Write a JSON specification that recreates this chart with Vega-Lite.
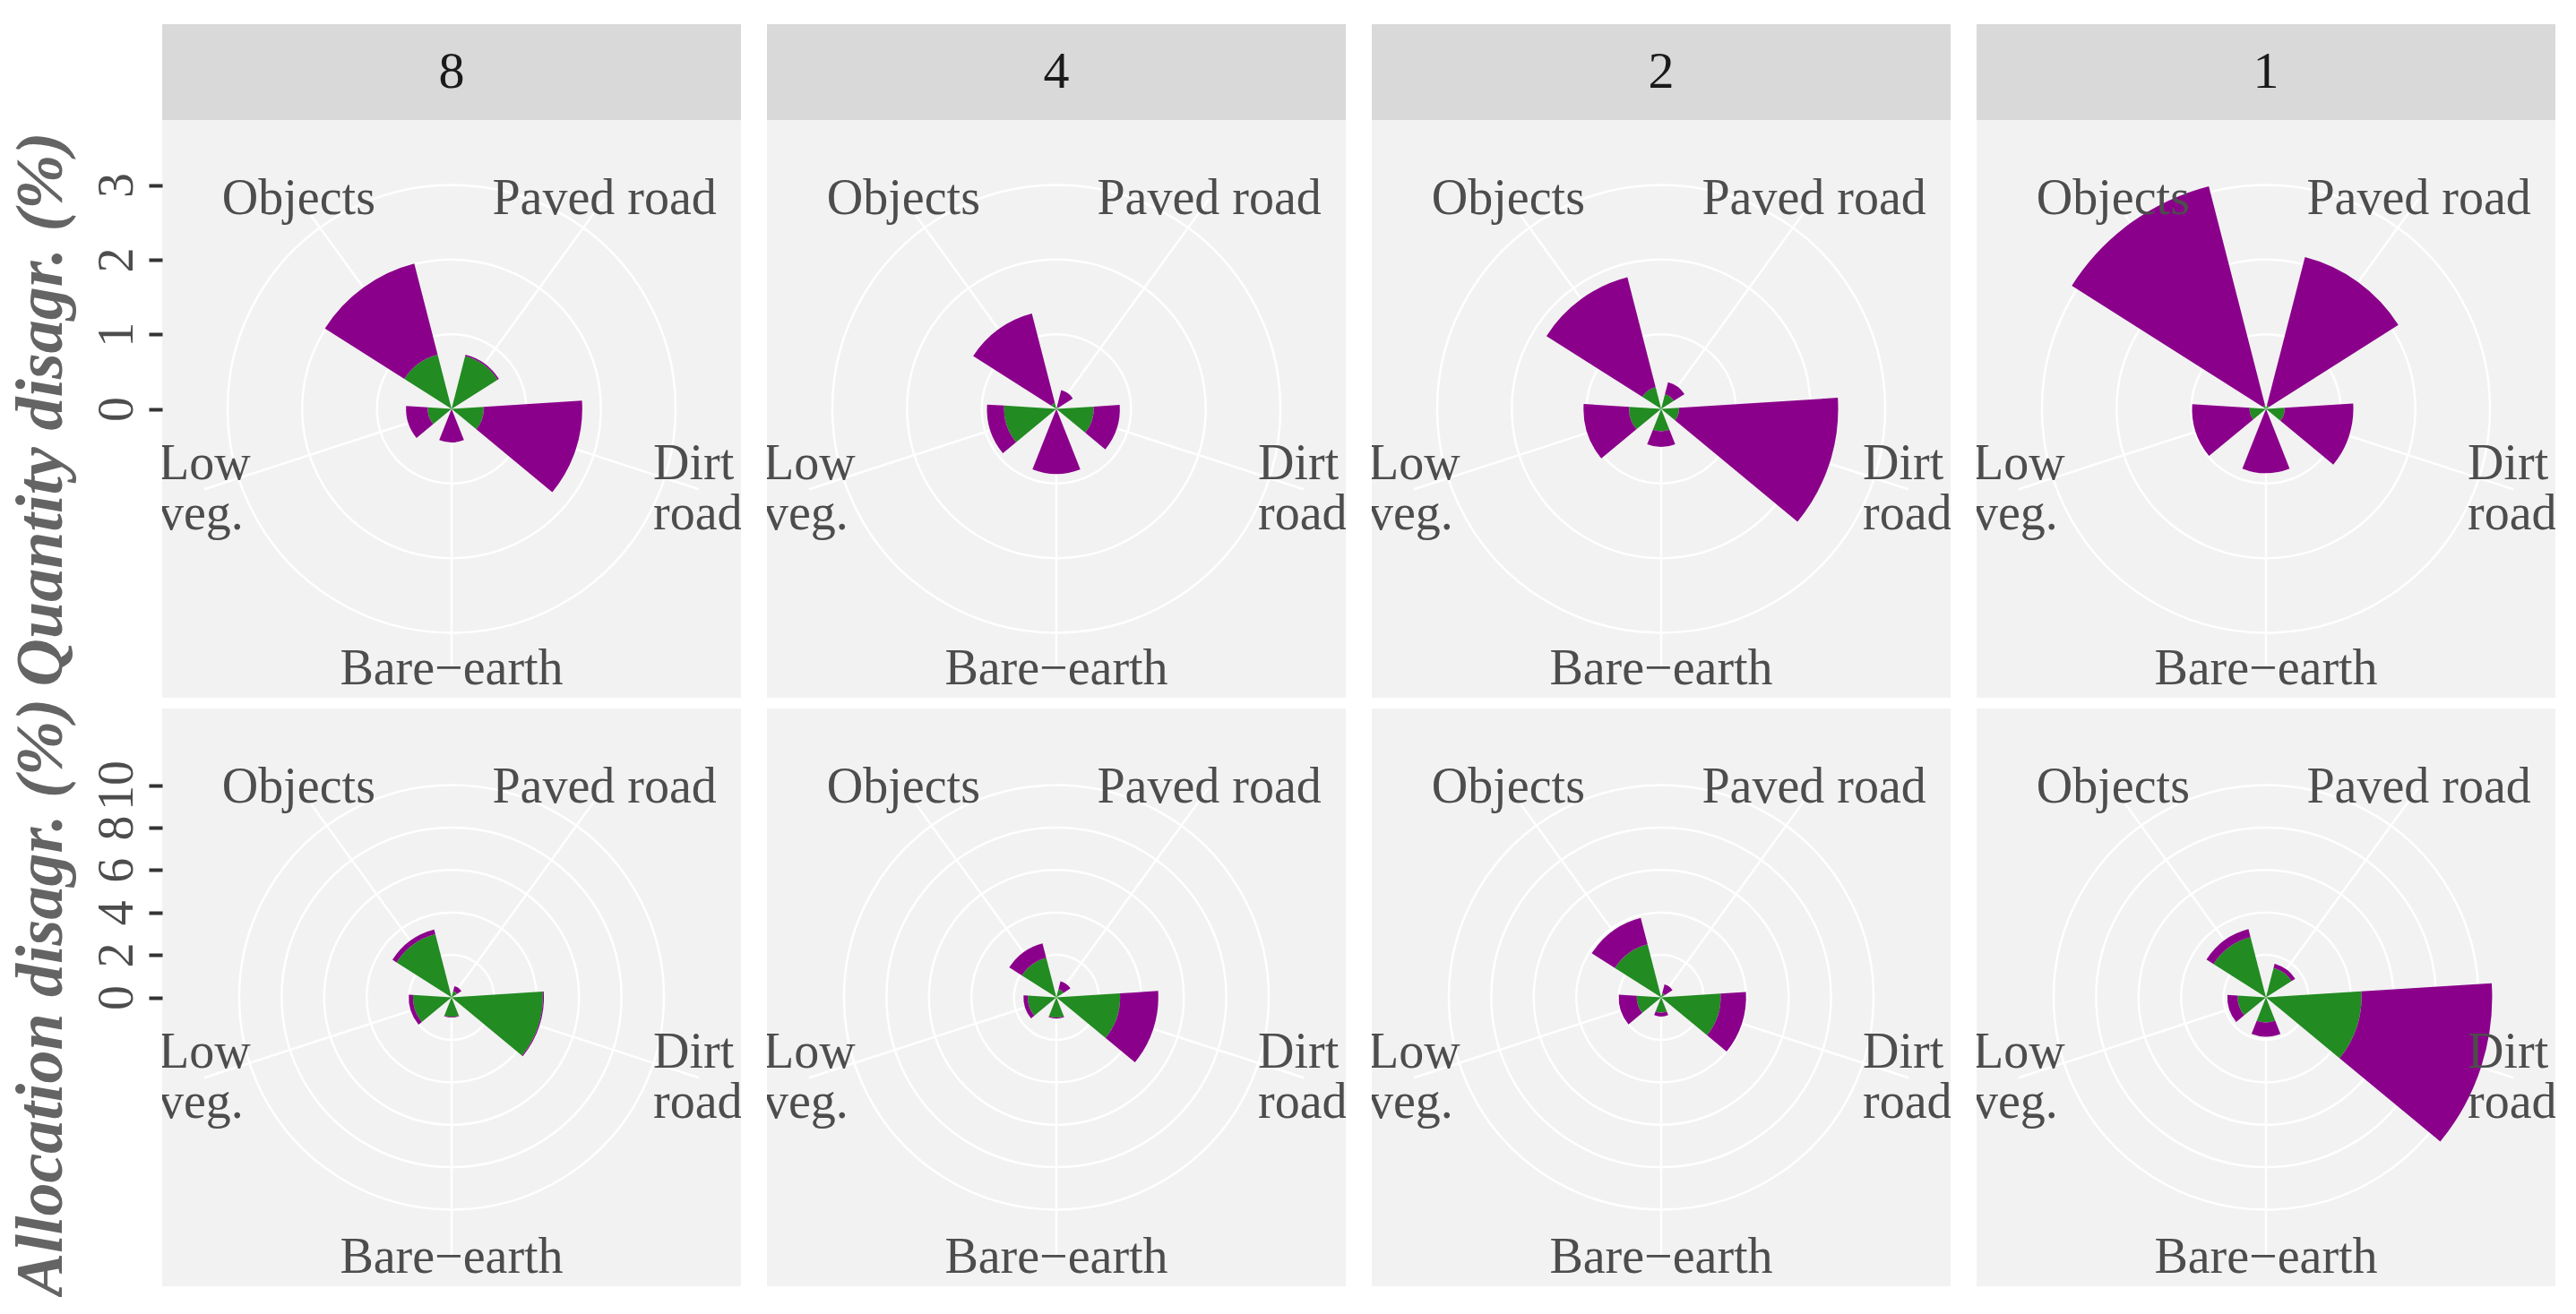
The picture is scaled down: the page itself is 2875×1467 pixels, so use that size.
{
  "$schema": "https://vega.github.io/schema/vega-lite/v6.json",
  "background": "#FFFFFF",
  "padding": {"left": 8, "top": 27, "right": 0, "bottom": 0},
  "config": {"view": {"stroke": null}, "font": "Liberation Serif"},
  "datasets": {
    "bars": [
      {"measure": "Quantity", "res": "8", "cls": "Objects", "part": "Component 1", "value": 0.75},
      {"measure": "Quantity", "res": "8", "cls": "Objects", "part": "Component 2", "value": 1.26},
      {"measure": "Quantity", "res": "8", "cls": "Paved road", "part": "Component 1", "value": 0.73},
      {"measure": "Quantity", "res": "8", "cls": "Paved road", "part": "Component 2", "value": 0.02},
      {"measure": "Quantity", "res": "8", "cls": "Dirt road", "part": "Component 1", "value": 0.43},
      {"measure": "Quantity", "res": "8", "cls": "Dirt road", "part": "Component 2", "value": 1.32},
      {"measure": "Quantity", "res": "8", "cls": "Bare-earth", "part": "Component 1", "value": 0.0},
      {"measure": "Quantity", "res": "8", "cls": "Bare-earth", "part": "Component 2", "value": 0.45},
      {"measure": "Quantity", "res": "8", "cls": "Low veg.", "part": "Component 1", "value": 0.32},
      {"measure": "Quantity", "res": "8", "cls": "Low veg.", "part": "Component 2", "value": 0.29},
      {"measure": "Quantity", "res": "4", "cls": "Objects", "part": "Component 1", "value": 0.08},
      {"measure": "Quantity", "res": "4", "cls": "Objects", "part": "Component 2", "value": 1.24},
      {"measure": "Quantity", "res": "4", "cls": "Paved road", "part": "Component 1", "value": 0.03},
      {"measure": "Quantity", "res": "4", "cls": "Paved road", "part": "Component 2", "value": 0.23},
      {"measure": "Quantity", "res": "4", "cls": "Dirt road", "part": "Component 1", "value": 0.5},
      {"measure": "Quantity", "res": "4", "cls": "Dirt road", "part": "Component 2", "value": 0.35},
      {"measure": "Quantity", "res": "4", "cls": "Bare-earth", "part": "Component 1", "value": 0.0},
      {"measure": "Quantity", "res": "4", "cls": "Bare-earth", "part": "Component 2", "value": 0.87},
      {"measure": "Quantity", "res": "4", "cls": "Low veg.", "part": "Component 1", "value": 0.7},
      {"measure": "Quantity", "res": "4", "cls": "Low veg.", "part": "Component 2", "value": 0.23},
      {"measure": "Quantity", "res": "2", "cls": "Objects", "part": "Component 1", "value": 0.3},
      {"measure": "Quantity", "res": "2", "cls": "Objects", "part": "Component 2", "value": 1.52},
      {"measure": "Quantity", "res": "2", "cls": "Paved road", "part": "Component 1", "value": 0.2},
      {"measure": "Quantity", "res": "2", "cls": "Paved road", "part": "Component 2", "value": 0.17},
      {"measure": "Quantity", "res": "2", "cls": "Dirt road", "part": "Component 1", "value": 0.24},
      {"measure": "Quantity", "res": "2", "cls": "Dirt road", "part": "Component 2", "value": 2.13},
      {"measure": "Quantity", "res": "2", "cls": "Bare-earth", "part": "Component 1", "value": 0.3},
      {"measure": "Quantity", "res": "2", "cls": "Bare-earth", "part": "Component 2", "value": 0.21},
      {"measure": "Quantity", "res": "2", "cls": "Low veg.", "part": "Component 1", "value": 0.43},
      {"measure": "Quantity", "res": "2", "cls": "Low veg.", "part": "Component 2", "value": 0.61},
      {"measure": "Quantity", "res": "1", "cls": "Objects", "part": "Component 1", "value": 0.05},
      {"measure": "Quantity", "res": "1", "cls": "Objects", "part": "Component 2", "value": 3.03},
      {"measure": "Quantity", "res": "1", "cls": "Paved road", "part": "Component 1", "value": 0.05},
      {"measure": "Quantity", "res": "1", "cls": "Paved road", "part": "Component 2", "value": 2.05},
      {"measure": "Quantity", "res": "1", "cls": "Dirt road", "part": "Component 1", "value": 0.25},
      {"measure": "Quantity", "res": "1", "cls": "Dirt road", "part": "Component 2", "value": 0.92},
      {"measure": "Quantity", "res": "1", "cls": "Bare-earth", "part": "Component 1", "value": 0.0},
      {"measure": "Quantity", "res": "1", "cls": "Bare-earth", "part": "Component 2", "value": 0.86},
      {"measure": "Quantity", "res": "1", "cls": "Low veg.", "part": "Component 1", "value": 0.22},
      {"measure": "Quantity", "res": "1", "cls": "Low veg.", "part": "Component 2", "value": 0.77},
      {"measure": "Allocation", "res": "8", "cls": "Objects", "part": "Component 1", "value": 3.07},
      {"measure": "Allocation", "res": "8", "cls": "Objects", "part": "Component 2", "value": 0.23},
      {"measure": "Allocation", "res": "8", "cls": "Paved road", "part": "Component 1", "value": 0.3},
      {"measure": "Allocation", "res": "8", "cls": "Paved road", "part": "Component 2", "value": 0.25},
      {"measure": "Allocation", "res": "8", "cls": "Dirt road", "part": "Component 1", "value": 4.3},
      {"measure": "Allocation", "res": "8", "cls": "Dirt road", "part": "Component 2", "value": 0.05},
      {"measure": "Allocation", "res": "8", "cls": "Bare-earth", "part": "Component 1", "value": 0.92},
      {"measure": "Allocation", "res": "8", "cls": "Bare-earth", "part": "Component 2", "value": 0.03},
      {"measure": "Allocation", "res": "8", "cls": "Low veg.", "part": "Component 1", "value": 1.82},
      {"measure": "Allocation", "res": "8", "cls": "Low veg.", "part": "Component 2", "value": 0.2},
      {"measure": "Allocation", "res": "4", "cls": "Objects", "part": "Component 1", "value": 1.93},
      {"measure": "Allocation", "res": "4", "cls": "Objects", "part": "Component 2", "value": 0.7},
      {"measure": "Allocation", "res": "4", "cls": "Paved road", "part": "Component 1", "value": 0.4},
      {"measure": "Allocation", "res": "4", "cls": "Paved road", "part": "Component 2", "value": 0.38},
      {"measure": "Allocation", "res": "4", "cls": "Dirt road", "part": "Component 1", "value": 3.0},
      {"measure": "Allocation", "res": "4", "cls": "Dirt road", "part": "Component 2", "value": 1.8},
      {"measure": "Allocation", "res": "4", "cls": "Bare-earth", "part": "Component 1", "value": 0.95},
      {"measure": "Allocation", "res": "4", "cls": "Bare-earth", "part": "Component 2", "value": 0.05},
      {"measure": "Allocation", "res": "4", "cls": "Low veg.", "part": "Component 1", "value": 1.35},
      {"measure": "Allocation", "res": "4", "cls": "Low veg.", "part": "Component 2", "value": 0.2},
      {"measure": "Allocation", "res": "2", "cls": "Objects", "part": "Component 1", "value": 2.58},
      {"measure": "Allocation", "res": "2", "cls": "Objects", "part": "Component 2", "value": 1.29},
      {"measure": "Allocation", "res": "2", "cls": "Paved road", "part": "Component 1", "value": 0.2},
      {"measure": "Allocation", "res": "2", "cls": "Paved road", "part": "Component 2", "value": 0.43},
      {"measure": "Allocation", "res": "2", "cls": "Dirt road", "part": "Component 1", "value": 2.8},
      {"measure": "Allocation", "res": "2", "cls": "Dirt road", "part": "Component 2", "value": 1.2},
      {"measure": "Allocation", "res": "2", "cls": "Bare-earth", "part": "Component 1", "value": 0.72},
      {"measure": "Allocation", "res": "2", "cls": "Bare-earth", "part": "Component 2", "value": 0.18},
      {"measure": "Allocation", "res": "2", "cls": "Low veg.", "part": "Component 1", "value": 1.15},
      {"measure": "Allocation", "res": "2", "cls": "Low veg.", "part": "Component 2", "value": 0.85},
      {"measure": "Allocation", "res": "1", "cls": "Objects", "part": "Component 1", "value": 2.93},
      {"measure": "Allocation", "res": "1", "cls": "Objects", "part": "Component 2", "value": 0.39},
      {"measure": "Allocation", "res": "1", "cls": "Paved road", "part": "Component 1", "value": 1.43},
      {"measure": "Allocation", "res": "1", "cls": "Paved road", "part": "Component 2", "value": 0.2},
      {"measure": "Allocation", "res": "1", "cls": "Dirt road", "part": "Component 1", "value": 4.5},
      {"measure": "Allocation", "res": "1", "cls": "Dirt road", "part": "Component 2", "value": 6.15},
      {"measure": "Allocation", "res": "1", "cls": "Bare-earth", "part": "Component 1", "value": 1.18},
      {"measure": "Allocation", "res": "1", "cls": "Bare-earth", "part": "Component 2", "value": 0.67},
      {"measure": "Allocation", "res": "1", "cls": "Low veg.", "part": "Component 1", "value": 1.33},
      {"measure": "Allocation", "res": "1", "cls": "Low veg.", "part": "Component 2", "value": 0.49}
    ],
    "cats": [
      {"cls": "Paved road", "label": "Paved road"},
      {"cls": "Dirt road", "label": "Dirt\nroad"},
      {"cls": "Bare-earth", "label": "Bare−earth"},
      {"cls": "Low veg.", "label": "Low\nveg."},
      {"cls": "Objects", "label": "Objects"}
    ],
    "qgrid": [{"r": 1}, {"r": 2}, {"r": 3}],
    "agrid": [{"r": 2}, {"r": 4}, {"r": 6}, {"r": 8}, {"r": 10}]
  },
  "columns": 4,
  "spacing": {"row": 0, "column": 29},
  "resolve": {"scale": {"theta": "independent", "radius": "independent", "color": "independent"}},
  "concat": [
    {
      "spacing": 0,
      "resolve": {"scale": {"theta": "independent", "radius": "independent", "color": "independent"}},
      "vconcat": [
        {"width": 646, "height": 107, "view": {"fill": "#D9D9D9", "stroke": null}, "data": {"values": [{"res": "8"}]},
         "mark": {"type": "text", "fontSize": 58, "color": "#1A1A1A", "baseline": "middle", "align": "center"},
         "encoding": {"text": {"field": "res"}}},
        {"width": 646, "height": 645, "view": {"fill": "#F2F2F2", "stroke": null},
         "resolve": {"scale": {"theta": "independent"}},
         "layer": [
          {"data": {"name": "qgrid"}, "mark": {"type": "arc", "fill": "transparent", "stroke": "#FFFFFF", "strokeWidth": 2.5},
           "encoding": {"theta": {"datum": 0, "type": "quantitative", "scale": {"domain": [0, 6.283185307179586], "range": [0, 6.283185307179586], "zero": false, "nice": false}},
                        "theta2": {"datum": 6.2831},
                        "radius": {"field": "r", "type": "quantitative", "scale": {"domain": [0, 3], "range": [0, 250], "nice": false, "zero": true}},
                        "radius2": {"field": "r"}}},
          {"data": {"name": "cats"}, "mark": {"type": "arc", "fill": "transparent", "stroke": "#FFFFFF", "strokeWidth": 2.5},
           "encoding": {"theta": {"field": "cls", "type": "nominal", "scale": {"type": "band", "domain": ["Paved road", "Dirt road", "Bare-earth", "Low veg.", "Objects"], "range": [0, 6.283185307179586], "paddingInner": 1, "paddingOuter": 0.5}},
                        "radius": {"datum": 3.483}}},
          {"data": {"name": "bars"}, "transform": [{"filter": "datum.measure === 'Quantity' && datum.res === '8'"}],
           "mark": {"type": "arc"},
           "encoding": {"theta": {"field": "cls", "type": "nominal", "scale": {"type": "band", "domain": ["Paved road", "Dirt road", "Bare-earth", "Low veg.", "Objects"], "range": [0, 6.283185307179586], "paddingInner": 0.4, "paddingOuter": 0.2}},
                        "radius": {"field": "value", "type": "quantitative", "stack": "zero"},
                        "color": {"field": "part", "type": "nominal", "scale": {"domain": ["Component 1", "Component 2"], "range": ["#228B22", "#8B008B"]}, "legend": null}}},
          {"data": {"name": "cats"}, "transform": [{"filter": "datum.cls !== 'Dirt road' && datum.cls !== 'Low veg.'"}],
           "mark": {"type": "text", "fontSize": 56, "color": "#4D4D4D", "align": "center", "baseline": "middle", "clip": true},
           "encoding": {"theta": {"field": "cls", "type": "nominal", "scale": {"type": "band", "domain": ["Paved road", "Dirt road", "Bare-earth", "Low veg.", "Objects"], "range": [0, 6.283185307179586], "paddingInner": 1, "paddingOuter": 0.5}},
                        "radius": {"datum": 3.483}, "text": {"field": "label"}}},
          {"data": {"name": "cats"}, "transform": [{"filter": "datum.cls === 'Dirt road' || datum.cls === 'Low veg.'"}],
           "mark": {"type": "text", "fontSize": 56, "color": "#4D4D4D", "lineBreak": "\n", "lineHeight": 56, "align": "left", "dx": -51, "dy": -28, "baseline": "middle", "clip": true},
           "encoding": {"theta": {"field": "cls", "type": "nominal", "scale": {"type": "band", "domain": ["Paved road", "Dirt road", "Bare-earth", "Low veg.", "Objects"], "range": [0, 6.283185307179586], "paddingInner": 1, "paddingOuter": 0.5}},
                        "radius": {"datum": 3.483}, "text": {"field": "label"}}},
          {"data": {"name": "qgrid"}, "mark": {"type": "point", "opacity": 0},
           "encoding": {"y": {"field": "r", "type": "quantitative", "scale": {"domain": [-3.8715, 3.8715], "nice": false, "zero": false},
             "axis": {"values": [0, 1, 2, 3], "title": "Quantity disagr. (%)", "grid": false, "domain": false, "tickColor": "#333333", "tickSize": 15, "tickWidth": 4,
                      "labelAngle": -90, "labelAlign": "center", "labelBaseline": "alphabetic", "labelPadding": 19, "labelFontSize": 56, "labelColor": "#4D4D4D", "labelOverlap": false, "labelFlush": false,
                      "titleFontSize": 74, "titleFontWeight": "bold", "titleFontStyle": "italic", "titleColor": "#646464", "titlePadding": 18}}}}
         ]}
      ]
    },
    {
      "spacing": 0,
      "resolve": {"scale": {"theta": "independent", "radius": "independent", "color": "independent"}},
      "vconcat": [
        {"width": 646, "height": 107, "view": {"fill": "#D9D9D9", "stroke": null}, "data": {"values": [{"res": "4"}]},
         "mark": {"type": "text", "fontSize": 58, "color": "#1A1A1A", "baseline": "middle", "align": "center"},
         "encoding": {"text": {"field": "res"}}},
        {"width": 646, "height": 645, "view": {"fill": "#F2F2F2", "stroke": null},
         "resolve": {"scale": {"theta": "independent"}},
         "layer": [
          {"data": {"name": "qgrid"}, "mark": {"type": "arc", "fill": "transparent", "stroke": "#FFFFFF", "strokeWidth": 2.5},
           "encoding": {"theta": {"datum": 0, "type": "quantitative", "scale": {"domain": [0, 6.283185307179586], "range": [0, 6.283185307179586], "zero": false, "nice": false}},
                        "theta2": {"datum": 6.2831},
                        "radius": {"field": "r", "type": "quantitative", "scale": {"domain": [0, 3], "range": [0, 250], "nice": false, "zero": true}},
                        "radius2": {"field": "r"}}},
          {"data": {"name": "cats"}, "mark": {"type": "arc", "fill": "transparent", "stroke": "#FFFFFF", "strokeWidth": 2.5},
           "encoding": {"theta": {"field": "cls", "type": "nominal", "scale": {"type": "band", "domain": ["Paved road", "Dirt road", "Bare-earth", "Low veg.", "Objects"], "range": [0, 6.283185307179586], "paddingInner": 1, "paddingOuter": 0.5}},
                        "radius": {"datum": 3.483}}},
          {"data": {"name": "bars"}, "transform": [{"filter": "datum.measure === 'Quantity' && datum.res === '4'"}],
           "mark": {"type": "arc"},
           "encoding": {"theta": {"field": "cls", "type": "nominal", "scale": {"type": "band", "domain": ["Paved road", "Dirt road", "Bare-earth", "Low veg.", "Objects"], "range": [0, 6.283185307179586], "paddingInner": 0.4, "paddingOuter": 0.2}},
                        "radius": {"field": "value", "type": "quantitative", "stack": "zero"},
                        "color": {"field": "part", "type": "nominal", "scale": {"domain": ["Component 1", "Component 2"], "range": ["#228B22", "#8B008B"]}, "legend": null}}},
          {"data": {"name": "cats"}, "transform": [{"filter": "datum.cls !== 'Dirt road' && datum.cls !== 'Low veg.'"}],
           "mark": {"type": "text", "fontSize": 56, "color": "#4D4D4D", "align": "center", "baseline": "middle", "clip": true},
           "encoding": {"theta": {"field": "cls", "type": "nominal", "scale": {"type": "band", "domain": ["Paved road", "Dirt road", "Bare-earth", "Low veg.", "Objects"], "range": [0, 6.283185307179586], "paddingInner": 1, "paddingOuter": 0.5}},
                        "radius": {"datum": 3.483}, "text": {"field": "label"}}},
          {"data": {"name": "cats"}, "transform": [{"filter": "datum.cls === 'Dirt road' || datum.cls === 'Low veg.'"}],
           "mark": {"type": "text", "fontSize": 56, "color": "#4D4D4D", "lineBreak": "\n", "lineHeight": 56, "align": "left", "dx": -51, "dy": -28, "baseline": "middle", "clip": true},
           "encoding": {"theta": {"field": "cls", "type": "nominal", "scale": {"type": "band", "domain": ["Paved road", "Dirt road", "Bare-earth", "Low veg.", "Objects"], "range": [0, 6.283185307179586], "paddingInner": 1, "paddingOuter": 0.5}},
                        "radius": {"datum": 3.483}, "text": {"field": "label"}}}
         ]}
      ]
    },
    {
      "spacing": 0,
      "resolve": {"scale": {"theta": "independent", "radius": "independent", "color": "independent"}},
      "vconcat": [
        {"width": 646, "height": 107, "view": {"fill": "#D9D9D9", "stroke": null}, "data": {"values": [{"res": "2"}]},
         "mark": {"type": "text", "fontSize": 58, "color": "#1A1A1A", "baseline": "middle", "align": "center"},
         "encoding": {"text": {"field": "res"}}},
        {"width": 646, "height": 645, "view": {"fill": "#F2F2F2", "stroke": null},
         "resolve": {"scale": {"theta": "independent"}},
         "layer": [
          {"data": {"name": "qgrid"}, "mark": {"type": "arc", "fill": "transparent", "stroke": "#FFFFFF", "strokeWidth": 2.5},
           "encoding": {"theta": {"datum": 0, "type": "quantitative", "scale": {"domain": [0, 6.283185307179586], "range": [0, 6.283185307179586], "zero": false, "nice": false}},
                        "theta2": {"datum": 6.2831},
                        "radius": {"field": "r", "type": "quantitative", "scale": {"domain": [0, 3], "range": [0, 250], "nice": false, "zero": true}},
                        "radius2": {"field": "r"}}},
          {"data": {"name": "cats"}, "mark": {"type": "arc", "fill": "transparent", "stroke": "#FFFFFF", "strokeWidth": 2.5},
           "encoding": {"theta": {"field": "cls", "type": "nominal", "scale": {"type": "band", "domain": ["Paved road", "Dirt road", "Bare-earth", "Low veg.", "Objects"], "range": [0, 6.283185307179586], "paddingInner": 1, "paddingOuter": 0.5}},
                        "radius": {"datum": 3.483}}},
          {"data": {"name": "bars"}, "transform": [{"filter": "datum.measure === 'Quantity' && datum.res === '2'"}],
           "mark": {"type": "arc"},
           "encoding": {"theta": {"field": "cls", "type": "nominal", "scale": {"type": "band", "domain": ["Paved road", "Dirt road", "Bare-earth", "Low veg.", "Objects"], "range": [0, 6.283185307179586], "paddingInner": 0.4, "paddingOuter": 0.2}},
                        "radius": {"field": "value", "type": "quantitative", "stack": "zero"},
                        "color": {"field": "part", "type": "nominal", "scale": {"domain": ["Component 1", "Component 2"], "range": ["#228B22", "#8B008B"]}, "legend": null}}},
          {"data": {"name": "cats"}, "transform": [{"filter": "datum.cls !== 'Dirt road' && datum.cls !== 'Low veg.'"}],
           "mark": {"type": "text", "fontSize": 56, "color": "#4D4D4D", "align": "center", "baseline": "middle", "clip": true},
           "encoding": {"theta": {"field": "cls", "type": "nominal", "scale": {"type": "band", "domain": ["Paved road", "Dirt road", "Bare-earth", "Low veg.", "Objects"], "range": [0, 6.283185307179586], "paddingInner": 1, "paddingOuter": 0.5}},
                        "radius": {"datum": 3.483}, "text": {"field": "label"}}},
          {"data": {"name": "cats"}, "transform": [{"filter": "datum.cls === 'Dirt road' || datum.cls === 'Low veg.'"}],
           "mark": {"type": "text", "fontSize": 56, "color": "#4D4D4D", "lineBreak": "\n", "lineHeight": 56, "align": "left", "dx": -51, "dy": -28, "baseline": "middle", "clip": true},
           "encoding": {"theta": {"field": "cls", "type": "nominal", "scale": {"type": "band", "domain": ["Paved road", "Dirt road", "Bare-earth", "Low veg.", "Objects"], "range": [0, 6.283185307179586], "paddingInner": 1, "paddingOuter": 0.5}},
                        "radius": {"datum": 3.483}, "text": {"field": "label"}}}
         ]}
      ]
    },
    {
      "spacing": 0,
      "resolve": {"scale": {"theta": "independent", "radius": "independent", "color": "independent"}},
      "vconcat": [
        {"width": 646, "height": 107, "view": {"fill": "#D9D9D9", "stroke": null}, "data": {"values": [{"res": "1"}]},
         "mark": {"type": "text", "fontSize": 58, "color": "#1A1A1A", "baseline": "middle", "align": "center"},
         "encoding": {"text": {"field": "res"}}},
        {"width": 646, "height": 645, "view": {"fill": "#F2F2F2", "stroke": null},
         "resolve": {"scale": {"theta": "independent"}},
         "layer": [
          {"data": {"name": "qgrid"}, "mark": {"type": "arc", "fill": "transparent", "stroke": "#FFFFFF", "strokeWidth": 2.5},
           "encoding": {"theta": {"datum": 0, "type": "quantitative", "scale": {"domain": [0, 6.283185307179586], "range": [0, 6.283185307179586], "zero": false, "nice": false}},
                        "theta2": {"datum": 6.2831},
                        "radius": {"field": "r", "type": "quantitative", "scale": {"domain": [0, 3], "range": [0, 250], "nice": false, "zero": true}},
                        "radius2": {"field": "r"}}},
          {"data": {"name": "cats"}, "mark": {"type": "arc", "fill": "transparent", "stroke": "#FFFFFF", "strokeWidth": 2.5},
           "encoding": {"theta": {"field": "cls", "type": "nominal", "scale": {"type": "band", "domain": ["Paved road", "Dirt road", "Bare-earth", "Low veg.", "Objects"], "range": [0, 6.283185307179586], "paddingInner": 1, "paddingOuter": 0.5}},
                        "radius": {"datum": 3.483}}},
          {"data": {"name": "bars"}, "transform": [{"filter": "datum.measure === 'Quantity' && datum.res === '1'"}],
           "mark": {"type": "arc"},
           "encoding": {"theta": {"field": "cls", "type": "nominal", "scale": {"type": "band", "domain": ["Paved road", "Dirt road", "Bare-earth", "Low veg.", "Objects"], "range": [0, 6.283185307179586], "paddingInner": 0.4, "paddingOuter": 0.2}},
                        "radius": {"field": "value", "type": "quantitative", "stack": "zero"},
                        "color": {"field": "part", "type": "nominal", "scale": {"domain": ["Component 1", "Component 2"], "range": ["#228B22", "#8B008B"]}, "legend": null}}},
          {"data": {"name": "cats"}, "transform": [{"filter": "datum.cls !== 'Dirt road' && datum.cls !== 'Low veg.'"}],
           "mark": {"type": "text", "fontSize": 56, "color": "#4D4D4D", "align": "center", "baseline": "middle", "clip": true},
           "encoding": {"theta": {"field": "cls", "type": "nominal", "scale": {"type": "band", "domain": ["Paved road", "Dirt road", "Bare-earth", "Low veg.", "Objects"], "range": [0, 6.283185307179586], "paddingInner": 1, "paddingOuter": 0.5}},
                        "radius": {"datum": 3.483}, "text": {"field": "label"}}},
          {"data": {"name": "cats"}, "transform": [{"filter": "datum.cls === 'Dirt road' || datum.cls === 'Low veg.'"}],
           "mark": {"type": "text", "fontSize": 56, "color": "#4D4D4D", "lineBreak": "\n", "lineHeight": 56, "align": "left", "dx": -51, "dy": -28, "baseline": "middle", "clip": true},
           "encoding": {"theta": {"field": "cls", "type": "nominal", "scale": {"type": "band", "domain": ["Paved road", "Dirt road", "Bare-earth", "Low veg.", "Objects"], "range": [0, 6.283185307179586], "paddingInner": 1, "paddingOuter": 0.5}},
                        "radius": {"datum": 3.483}, "text": {"field": "label"}}}
         ]}
      ]
    },
    {"width": 646, "height": 645, "view": {"fill": "#F2F2F2", "stroke": null},
     "resolve": {"scale": {"theta": "independent"}},
     "layer": [
      {"data": {"name": "agrid"}, "mark": {"type": "arc", "fill": "transparent", "stroke": "#FFFFFF", "strokeWidth": 2.5},
       "encoding": {"theta": {"datum": 0, "type": "quantitative", "scale": {"domain": [0, 6.283185307179586], "range": [0, 6.283185307179586], "zero": false, "nice": false}},
                    "theta2": {"datum": 6.2831},
                    "radius": {"field": "r", "type": "quantitative", "scale": {"domain": [0, 10], "range": [0, 237], "nice": false, "zero": true}},
                    "radius2": {"field": "r"}}},
      {"data": {"name": "cats"}, "mark": {"type": "arc", "fill": "transparent", "stroke": "#FFFFFF", "strokeWidth": 2.5},
       "encoding": {"theta": {"field": "cls", "type": "nominal", "scale": {"type": "band", "domain": ["Paved road", "Dirt road", "Bare-earth", "Low veg.", "Objects"], "range": [0, 6.283185307179586], "paddingInner": 1, "paddingOuter": 0.5}},
                    "radius": {"datum": 12.247}}},
      {"data": {"name": "bars"}, "transform": [{"filter": "datum.measure === 'Allocation' && datum.res === '8'"}],
       "mark": {"type": "arc"},
       "encoding": {"theta": {"field": "cls", "type": "nominal", "scale": {"type": "band", "domain": ["Paved road", "Dirt road", "Bare-earth", "Low veg.", "Objects"], "range": [0, 6.283185307179586], "paddingInner": 0.4, "paddingOuter": 0.2}},
                    "radius": {"field": "value", "type": "quantitative", "stack": "zero"},
                    "color": {"field": "part", "type": "nominal", "scale": {"domain": ["Component 1", "Component 2"], "range": ["#228B22", "#8B008B"]}, "legend": null}}},
      {"data": {"name": "cats"}, "transform": [{"filter": "datum.cls !== 'Dirt road' && datum.cls !== 'Low veg.'"}],
       "mark": {"type": "text", "fontSize": 56, "color": "#4D4D4D", "align": "center", "baseline": "middle", "clip": true},
       "encoding": {"theta": {"field": "cls", "type": "nominal", "scale": {"type": "band", "domain": ["Paved road", "Dirt road", "Bare-earth", "Low veg.", "Objects"], "range": [0, 6.283185307179586], "paddingInner": 1, "paddingOuter": 0.5}},
                    "radius": {"datum": 12.247}, "text": {"field": "label"}}},
      {"data": {"name": "cats"}, "transform": [{"filter": "datum.cls === 'Dirt road' || datum.cls === 'Low veg.'"}],
       "mark": {"type": "text", "fontSize": 56, "color": "#4D4D4D", "lineBreak": "\n", "lineHeight": 56, "align": "left", "dx": -51, "dy": -28, "baseline": "middle", "clip": true},
       "encoding": {"theta": {"field": "cls", "type": "nominal", "scale": {"type": "band", "domain": ["Paved road", "Dirt road", "Bare-earth", "Low veg.", "Objects"], "range": [0, 6.283185307179586], "paddingInner": 1, "paddingOuter": 0.5}},
                    "radius": {"datum": 12.247}, "text": {"field": "label"}}},
      {"data": {"name": "agrid"}, "mark": {"type": "point", "opacity": 0},
       "encoding": {"y": {"field": "r", "type": "quantitative", "scale": {"domain": [-13.608, 13.608], "nice": false, "zero": false},
         "axis": {"values": [0, 2, 4, 6, 8, 10], "title": "Allocation disagr. (%)", "grid": false, "domain": false, "tickColor": "#333333", "tickSize": 15, "tickWidth": 4,
                  "labelAngle": -90, "labelAlign": "center", "labelBaseline": "alphabetic", "labelPadding": 19, "labelFontSize": 56, "labelColor": "#4D4D4D", "labelOverlap": false, "labelFlush": false,
                  "titleFontSize": 74, "titleFontWeight": "bold", "titleFontStyle": "italic", "titleColor": "#646464", "titlePadding": 18}}}}
     ]},
    {"width": 646, "height": 645, "view": {"fill": "#F2F2F2", "stroke": null},
     "resolve": {"scale": {"theta": "independent"}},
     "layer": [
      {"data": {"name": "agrid"}, "mark": {"type": "arc", "fill": "transparent", "stroke": "#FFFFFF", "strokeWidth": 2.5},
       "encoding": {"theta": {"datum": 0, "type": "quantitative", "scale": {"domain": [0, 6.283185307179586], "range": [0, 6.283185307179586], "zero": false, "nice": false}},
                    "theta2": {"datum": 6.2831},
                    "radius": {"field": "r", "type": "quantitative", "scale": {"domain": [0, 10], "range": [0, 237], "nice": false, "zero": true}},
                    "radius2": {"field": "r"}}},
      {"data": {"name": "cats"}, "mark": {"type": "arc", "fill": "transparent", "stroke": "#FFFFFF", "strokeWidth": 2.5},
       "encoding": {"theta": {"field": "cls", "type": "nominal", "scale": {"type": "band", "domain": ["Paved road", "Dirt road", "Bare-earth", "Low veg.", "Objects"], "range": [0, 6.283185307179586], "paddingInner": 1, "paddingOuter": 0.5}},
                    "radius": {"datum": 12.247}}},
      {"data": {"name": "bars"}, "transform": [{"filter": "datum.measure === 'Allocation' && datum.res === '4'"}],
       "mark": {"type": "arc"},
       "encoding": {"theta": {"field": "cls", "type": "nominal", "scale": {"type": "band", "domain": ["Paved road", "Dirt road", "Bare-earth", "Low veg.", "Objects"], "range": [0, 6.283185307179586], "paddingInner": 0.4, "paddingOuter": 0.2}},
                    "radius": {"field": "value", "type": "quantitative", "stack": "zero"},
                    "color": {"field": "part", "type": "nominal", "scale": {"domain": ["Component 1", "Component 2"], "range": ["#228B22", "#8B008B"]}, "legend": null}}},
      {"data": {"name": "cats"}, "transform": [{"filter": "datum.cls !== 'Dirt road' && datum.cls !== 'Low veg.'"}],
       "mark": {"type": "text", "fontSize": 56, "color": "#4D4D4D", "align": "center", "baseline": "middle", "clip": true},
       "encoding": {"theta": {"field": "cls", "type": "nominal", "scale": {"type": "band", "domain": ["Paved road", "Dirt road", "Bare-earth", "Low veg.", "Objects"], "range": [0, 6.283185307179586], "paddingInner": 1, "paddingOuter": 0.5}},
                    "radius": {"datum": 12.247}, "text": {"field": "label"}}},
      {"data": {"name": "cats"}, "transform": [{"filter": "datum.cls === 'Dirt road' || datum.cls === 'Low veg.'"}],
       "mark": {"type": "text", "fontSize": 56, "color": "#4D4D4D", "lineBreak": "\n", "lineHeight": 56, "align": "left", "dx": -51, "dy": -28, "baseline": "middle", "clip": true},
       "encoding": {"theta": {"field": "cls", "type": "nominal", "scale": {"type": "band", "domain": ["Paved road", "Dirt road", "Bare-earth", "Low veg.", "Objects"], "range": [0, 6.283185307179586], "paddingInner": 1, "paddingOuter": 0.5}},
                    "radius": {"datum": 12.247}, "text": {"field": "label"}}}
     ]},
    {"width": 646, "height": 645, "view": {"fill": "#F2F2F2", "stroke": null},
     "resolve": {"scale": {"theta": "independent"}},
     "layer": [
      {"data": {"name": "agrid"}, "mark": {"type": "arc", "fill": "transparent", "stroke": "#FFFFFF", "strokeWidth": 2.5},
       "encoding": {"theta": {"datum": 0, "type": "quantitative", "scale": {"domain": [0, 6.283185307179586], "range": [0, 6.283185307179586], "zero": false, "nice": false}},
                    "theta2": {"datum": 6.2831},
                    "radius": {"field": "r", "type": "quantitative", "scale": {"domain": [0, 10], "range": [0, 237], "nice": false, "zero": true}},
                    "radius2": {"field": "r"}}},
      {"data": {"name": "cats"}, "mark": {"type": "arc", "fill": "transparent", "stroke": "#FFFFFF", "strokeWidth": 2.5},
       "encoding": {"theta": {"field": "cls", "type": "nominal", "scale": {"type": "band", "domain": ["Paved road", "Dirt road", "Bare-earth", "Low veg.", "Objects"], "range": [0, 6.283185307179586], "paddingInner": 1, "paddingOuter": 0.5}},
                    "radius": {"datum": 12.247}}},
      {"data": {"name": "bars"}, "transform": [{"filter": "datum.measure === 'Allocation' && datum.res === '2'"}],
       "mark": {"type": "arc"},
       "encoding": {"theta": {"field": "cls", "type": "nominal", "scale": {"type": "band", "domain": ["Paved road", "Dirt road", "Bare-earth", "Low veg.", "Objects"], "range": [0, 6.283185307179586], "paddingInner": 0.4, "paddingOuter": 0.2}},
                    "radius": {"field": "value", "type": "quantitative", "stack": "zero"},
                    "color": {"field": "part", "type": "nominal", "scale": {"domain": ["Component 1", "Component 2"], "range": ["#228B22", "#8B008B"]}, "legend": null}}},
      {"data": {"name": "cats"}, "transform": [{"filter": "datum.cls !== 'Dirt road' && datum.cls !== 'Low veg.'"}],
       "mark": {"type": "text", "fontSize": 56, "color": "#4D4D4D", "align": "center", "baseline": "middle", "clip": true},
       "encoding": {"theta": {"field": "cls", "type": "nominal", "scale": {"type": "band", "domain": ["Paved road", "Dirt road", "Bare-earth", "Low veg.", "Objects"], "range": [0, 6.283185307179586], "paddingInner": 1, "paddingOuter": 0.5}},
                    "radius": {"datum": 12.247}, "text": {"field": "label"}}},
      {"data": {"name": "cats"}, "transform": [{"filter": "datum.cls === 'Dirt road' || datum.cls === 'Low veg.'"}],
       "mark": {"type": "text", "fontSize": 56, "color": "#4D4D4D", "lineBreak": "\n", "lineHeight": 56, "align": "left", "dx": -51, "dy": -28, "baseline": "middle", "clip": true},
       "encoding": {"theta": {"field": "cls", "type": "nominal", "scale": {"type": "band", "domain": ["Paved road", "Dirt road", "Bare-earth", "Low veg.", "Objects"], "range": [0, 6.283185307179586], "paddingInner": 1, "paddingOuter": 0.5}},
                    "radius": {"datum": 12.247}, "text": {"field": "label"}}}
     ]},
    {"width": 646, "height": 645, "view": {"fill": "#F2F2F2", "stroke": null},
     "resolve": {"scale": {"theta": "independent"}},
     "layer": [
      {"data": {"name": "agrid"}, "mark": {"type": "arc", "fill": "transparent", "stroke": "#FFFFFF", "strokeWidth": 2.5},
       "encoding": {"theta": {"datum": 0, "type": "quantitative", "scale": {"domain": [0, 6.283185307179586], "range": [0, 6.283185307179586], "zero": false, "nice": false}},
                    "theta2": {"datum": 6.2831},
                    "radius": {"field": "r", "type": "quantitative", "scale": {"domain": [0, 10], "range": [0, 237], "nice": false, "zero": true}},
                    "radius2": {"field": "r"}}},
      {"data": {"name": "cats"}, "mark": {"type": "arc", "fill": "transparent", "stroke": "#FFFFFF", "strokeWidth": 2.5},
       "encoding": {"theta": {"field": "cls", "type": "nominal", "scale": {"type": "band", "domain": ["Paved road", "Dirt road", "Bare-earth", "Low veg.", "Objects"], "range": [0, 6.283185307179586], "paddingInner": 1, "paddingOuter": 0.5}},
                    "radius": {"datum": 12.247}}},
      {"data": {"name": "bars"}, "transform": [{"filter": "datum.measure === 'Allocation' && datum.res === '1'"}],
       "mark": {"type": "arc"},
       "encoding": {"theta": {"field": "cls", "type": "nominal", "scale": {"type": "band", "domain": ["Paved road", "Dirt road", "Bare-earth", "Low veg.", "Objects"], "range": [0, 6.283185307179586], "paddingInner": 0.4, "paddingOuter": 0.2}},
                    "radius": {"field": "value", "type": "quantitative", "stack": "zero"},
                    "color": {"field": "part", "type": "nominal", "scale": {"domain": ["Component 1", "Component 2"], "range": ["#228B22", "#8B008B"]}, "legend": null}}},
      {"data": {"name": "cats"}, "transform": [{"filter": "datum.cls !== 'Dirt road' && datum.cls !== 'Low veg.'"}],
       "mark": {"type": "text", "fontSize": 56, "color": "#4D4D4D", "align": "center", "baseline": "middle", "clip": true},
       "encoding": {"theta": {"field": "cls", "type": "nominal", "scale": {"type": "band", "domain": ["Paved road", "Dirt road", "Bare-earth", "Low veg.", "Objects"], "range": [0, 6.283185307179586], "paddingInner": 1, "paddingOuter": 0.5}},
                    "radius": {"datum": 12.247}, "text": {"field": "label"}}},
      {"data": {"name": "cats"}, "transform": [{"filter": "datum.cls === 'Dirt road' || datum.cls === 'Low veg.'"}],
       "mark": {"type": "text", "fontSize": 56, "color": "#4D4D4D", "lineBreak": "\n", "lineHeight": 56, "align": "left", "dx": -51, "dy": -28, "baseline": "middle", "clip": true},
       "encoding": {"theta": {"field": "cls", "type": "nominal", "scale": {"type": "band", "domain": ["Paved road", "Dirt road", "Bare-earth", "Low veg.", "Objects"], "range": [0, 6.283185307179586], "paddingInner": 1, "paddingOuter": 0.5}},
                    "radius": {"datum": 12.247}, "text": {"field": "label"}}}
     ]}
  ]
}
